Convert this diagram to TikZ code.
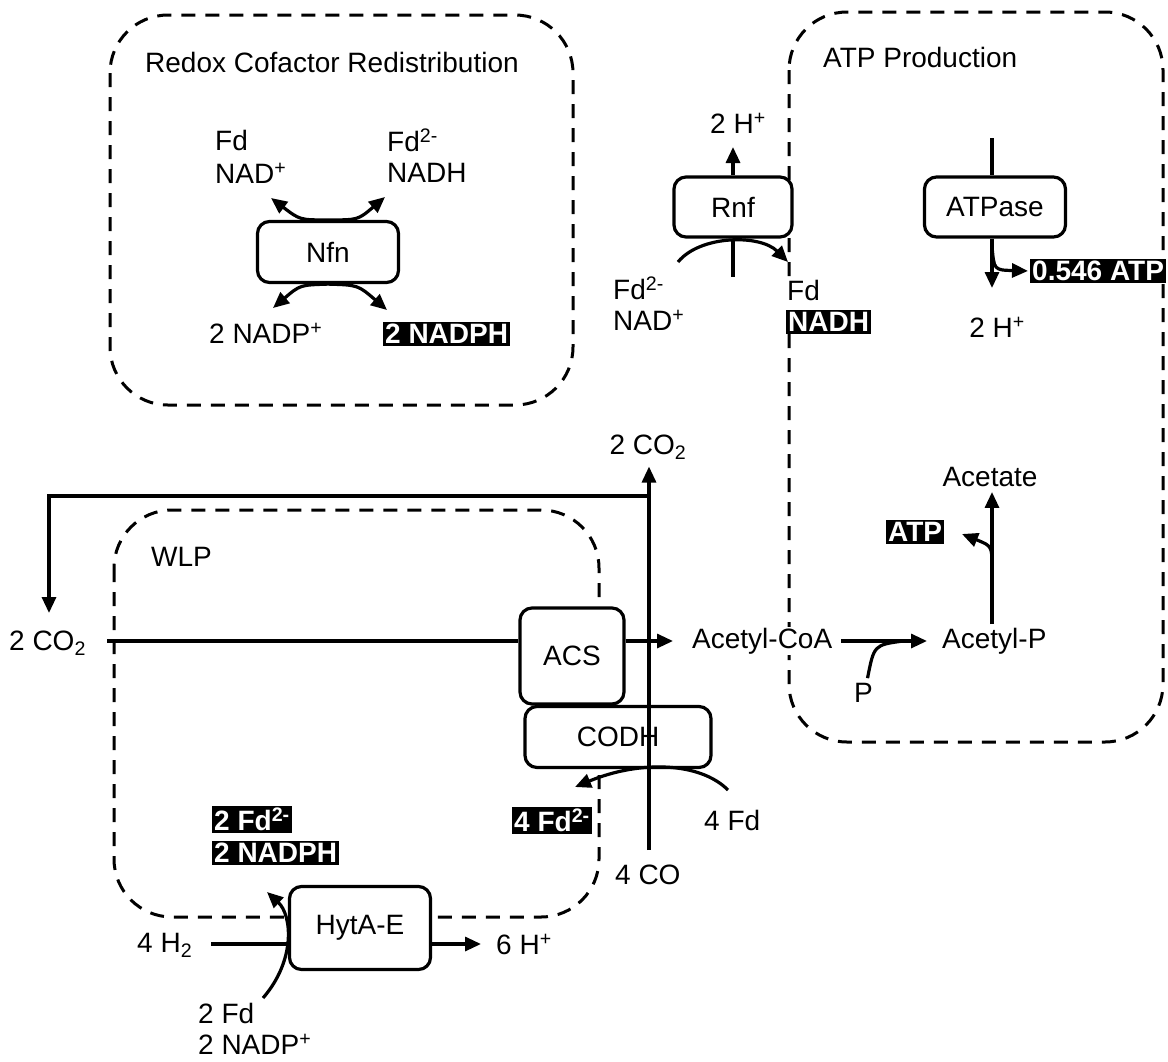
\documentclass[tikz,border=0pt]{standalone}
\usepackage{fontspec}
\setmainfont{Liberation Sans}
\usetikzlibrary{arrows.meta}
\begin{document}
\begin{tikzpicture}[x=1pt,y=-1pt,
  every node/.style={font=\fontsize{28}{31}\selectfont, inner sep=1pt},
  enz/.style={draw, line width=3.2pt, rounded corners=12pt, fill=white, inner sep=0pt},
  lbl/.style={anchor=west},
  hl/.style={anchor=west, fill=black, text=white, font=\fontsize{28}{31}\selectfont\bfseries, inner sep=2pt},
  ln/.style={line width=3.2pt},
  arr/.style={line width=3.2pt, -{Triangle[length=16pt,width=14pt]}},
  region/.style={line width=3pt, dash pattern=on 14pt off 10pt, rounded corners=58pt}
]
\useasboundingbox (0,0) rectangle (1168,1061);

% regions
\draw[region] (110,15) rectangle (573,405);
\draw[region] (789,12) rectangle (1163,742);
\draw[region] (114,510) rectangle (599,917);

% Redox cofactor redistribution
\node[lbl] (t1) at (144,62) {Redox Cofactor Redistribution};
\node[lbl] (fda) at (214,140) {Fd};
\node[lbl] (nada) at (214,173) {NAD\textsuperscript{+}};
\node[lbl] (fdb) at (386,140) {Fd\textsuperscript{2-}};
\node[lbl] (nadhb) at (386,173) {NADH};
\node[enz, minimum width=141pt, minimum height=61pt] (nfn) at (328,252) {Nfn};
\node[lbl] (nadpa) at (208,333) {2 NADP\textsuperscript{+}};
\node[hl] (nadpha) at (383,334) {2 NADPH};
\draw[arr] (nfn.north) .. controls (300,220) .. (271,198);
\draw[arr] (nfn.north) .. controls (358,220) .. (385,197);
\draw[arr] (nfn.south) .. controls (300,285) .. (273,308);
\draw[arr] (nfn.south) .. controls (358,285) .. (387,310);

% ATP production
\node[lbl] (t2) at (822,57) {ATP Production};
\node[enz, minimum width=118pt, minimum height=60pt] (rnf) at (733,207) {Rnf};
\node (hrnf) at (738,123) {2 H\textsuperscript{+}};
\coordinate (rnftop) at (733,147);
\draw[arr] (rnf.north) -- (rnftop);
\coordinate (rnfbot) at (733,277);
\draw[ln] (rnf.south) -- (rnfbot);
\node[lbl] (fdc) at (612,288) {Fd\textsuperscript{2-}};
\node[lbl] (nadc) at (612,320) {NAD\textsuperscript{+}};
\node[lbl, fill=white] (fdd) at (786,290) {Fd};
\node[hl] (nadhd) at (786,322) {NADH};
\coordinate (rnfin) at (678,262);
\draw[arr] (rnfin) .. controls (700,235) and (760,234) .. (788,262);

\node[enz, minimum width=141pt, minimum height=60pt] (atpase) at (995,207) {ATPase};
\coordinate (atptop) at (992,138);
\draw[ln] (atptop) -- (atpase.north -| atptop);
\coordinate (atpbot) at (992,288);
\draw[arr] (atpase.south -| atptop) -- (atpbot);
\node[hl] (atpb) at (1030,271) {0.546 ATP};
\draw[arr, shorten >=2pt] (992,246) .. controls (994,270) .. (atpb.west);
\node (hatp) at (997,327) {2 H\textsuperscript{+}};

\node[lbl, fill=white] (acoa) at (691,641) {Acetyl-CoA};
\node[lbl] (acp) at (941,641) {Acetyl-P};
\node (acet) at (990,477) {Acetate};
\node[lbl] (pp) at (853,693) {P};
\draw[arr, shorten >=14pt] (acoa.east) ++(8,0) -- (acp.west);
\draw[ln] (pp.north) ++(4,-4) .. controls (874,645) .. (903,641);
\coordinate (acpup) at (992,624);
\draw[arr, shorten >=4pt] (acpup) -- (acet.south -| acpup);
\node[hl] (atpc) at (886,532) {ATP};
\draw[arr] (992,568) .. controls (992,546) .. (962,534);

% WLP
\node[lbl] (t3) at (150,557) {WLP};
\node[lbl] (co2a) at (8,643) {2 CO\textsubscript{2}};
\node[enz, minimum width=104pt, minimum height=96pt] (acs) at (572,656) {ACS};
\node[enz, minimum width=186pt, minimum height=61pt] (codh) at (618,737) {CODH};
\draw[ln] (107,641) -- (acs.west |- 0,641);
\draw[arr] (acs.east |- 0,641) -- (673,641);

\node (co2b) at (648,447) {2 CO\textsubscript{2}};
\node[lbl] (co) at (614,875) {4 CO};
\coordinate (cotop) at (649,850);
\draw[arr, shorten >=6pt] (cotop) -- (co2b.south -| cotop);
\coordinate (br) at (649,496);
\coordinate (fbk) at (49,613);
\draw[arr] (br) -- (fbk |- br) -- (fbk);

\node[hl] (fdred) at (512,820) {4 Fd\textsuperscript{2-}};
\node[lbl] (fdox) at (703,820) {4 Fd};
\draw[arr] (728,790) .. controls (700,762) and (640,760) .. (575,787);

\node[enz, minimum width=141pt, minimum height=83pt] (hyt) at (360,928) {HytA-E};
\node[lbl] (h2) at (136,945) {4 H\textsubscript{2}};
\node[lbl] (h6) at (495,944) {6 H\textsuperscript{+}};
\draw[ln] (211,944) -- (hyt.west |- 0,944);
\draw[arr, shorten >=14pt] (hyt.east |- 0,944) -- (h6.west);
\node[hl] (fdr2) at (212,819) {2 Fd\textsuperscript{2-}};
\node[hl] (nadph2) at (212,853) {2 NADPH};
\node[lbl] (fd2) at (197,1013) {2 Fd};
\node[lbl] (nadp2) at (197,1044) {2 NADP\textsuperscript{+}};
\draw[arr] (263,998) .. controls (296,960) and (292,915) .. (267,892);
\end{tikzpicture}
\end{document}
